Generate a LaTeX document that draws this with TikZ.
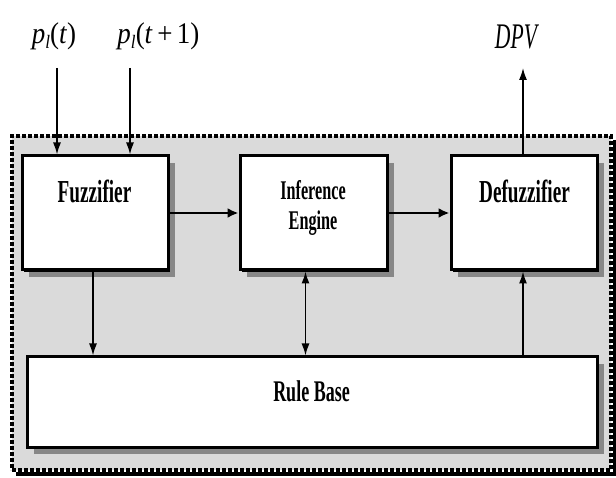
\documentclass[tikz,border=0pt]{standalone}
\usepackage{fontspec}
\setmainfont{Liberation Serif}
\usepackage{graphicx}
\usetikzlibrary{arrows.meta,shadows}
\definecolor{bgc}{RGB}{218,218,218}
\definecolor{shc}{RGB}{135,135,135}
\newcommand{\sqz}[3]{\scalebox{#1}[1]{\fontsize{#2}{#2}\selectfont #3}}
\begin{document}
\begin{tikzpicture}[x=1pt,y=-1pt,
  blk/.style={draw=black, line width=3pt, fill=white, inner sep=0pt,
    drop shadow={shadow xshift=7pt, shadow yshift=-7pt, fill=shc, opacity=1},
    drop shadow={shadow xshift=2pt, shadow yshift=-2pt, fill=black, opacity=1}},
  txt/.style={inner sep=0pt, anchor=base},
  varr/.style={line width=1.5pt, -{Latex[length=12pt,width=8pt]}},
  harr/.style={line width=2.4pt, -{Latex[length=11pt,width=10pt]}},
  darr/.style={line width=1.5pt, {Latex[length=12pt,width=8pt]}-{Latex[length=12pt,width=8pt]}}]
\useasboundingbox (0,0) rectangle (616,478);
% outer frame
\draw[line width=3.5pt] (614.5,140) -- (614.5,474) -- (16,474);
\node[draw=black, fill=bgc, line width=4pt, dash pattern=on 4pt off 2pt,
  minimum width=599pt, minimum height=334pt, inner sep=0pt] (frame) at (311.5,303) {};
% blocks
\node[blk, minimum width=146pt, minimum height=114pt] (fuz) at (95,213) {};
\node[blk, minimum width=147pt, minimum height=114pt] (inf) at (313.5,213) {};
\node[blk, minimum width=146pt, minimum height=114pt] (def) at (524,213) {};
\node[blk, minimum width=570pt, minimum height=90pt] (rule) at (312,402) {};
% texts
\node[txt] (fuzT) at (94.5,203) {\sqz{0.6}{32pt}{\bfseries Fuzzifier}};
\node[txt] (infT1) at (313,200) {\sqz{0.6}{27pt}{\bfseries Inference}};
\node[txt] (infT2) at (313,230) {\sqz{0.6}{27pt}{\bfseries Engine}};
\node[txt] (defT) at (524.5,203) {\sqz{0.6}{32pt}{\bfseries Defuzzifier}};
\node[txt] (ruleT) at (311.5,402) {\sqz{0.6}{30pt}{\bfseries Rule Base}};
% labels
\node[txt] (p1) at (54,44) {\sqz{0.9}{30pt}{\textit{p}\raisebox{-5pt}{\fontsize{19pt}{19pt}\selectfont\textit{l}}(\textit{t})}};
\node[txt] (p2) at (158.5,44) {\sqz{0.9}{30pt}{\textit{p}\raisebox{-5pt}{\fontsize{19pt}{19pt}\selectfont\textit{l}}(\textit{t}\,+\,1)}};
\node[txt] (dpv) at (517,49) {\sqz{0.6}{36pt}{\textit{DPV}}};
\coordinate (i1) at (57,68);
\coordinate (i2) at (130,68);
\coordinate (o1) at (523,68);
% connectors
\draw[varr] (i1) -- (i1 |- fuz.north);
\draw[varr] (i2) -- (i2 |- fuz.north);
\draw[varr] ([xshift=-1pt]def.north) -- (o1);
\draw[harr] (fuz.east) -- (inf.west);
\draw[harr] (inf.east) -- (def.west);
\draw[varr] ([xshift=-2pt]fuz.south) -- ([xshift=-2pt]fuz.south |- rule.north);
\draw[darr] ([xshift=-8pt]inf.south) -- ([xshift=-8pt]inf.south |- rule.north);
\draw[varr] ([xshift=-1pt]def.south |- rule.north) -- ([xshift=-1pt]def.south);
\end{tikzpicture}
\end{document}
